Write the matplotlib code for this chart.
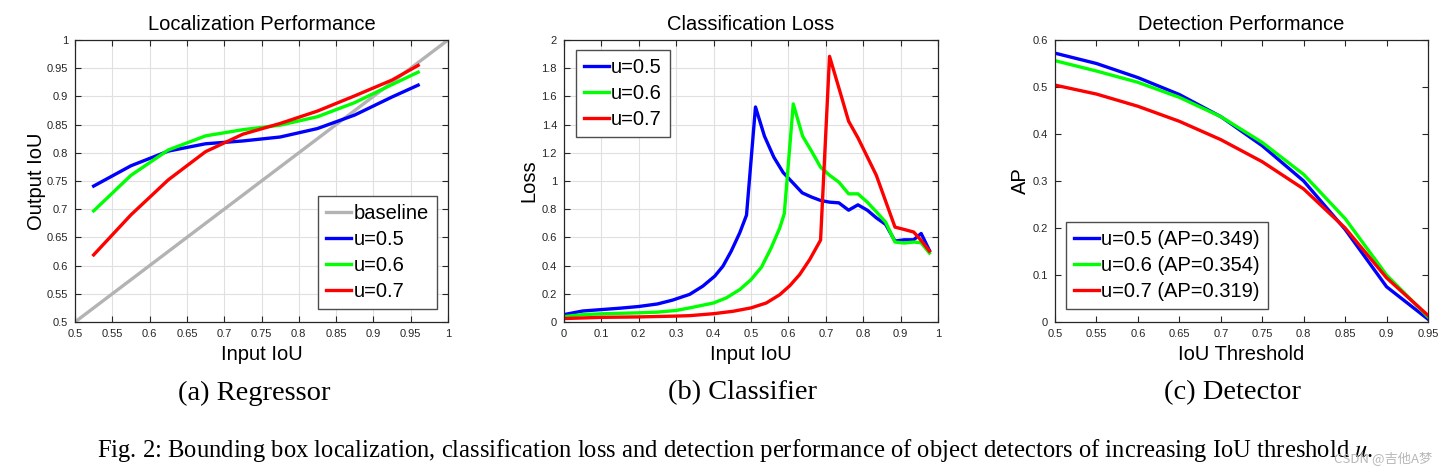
import matplotlib
matplotlib.use("Agg")
import matplotlib.pyplot as plt
from matplotlib.ticker import MultipleLocator, FuncFormatter

# ===== DATA =====
# (a) Regressor: output IoU vs input IoU
reg_x = [0.525, 0.575, 0.625, 0.675, 0.725, 0.775, 0.825, 0.875, 0.925, 0.96]
reg_u05 = [0.741, 0.777, 0.803, 0.816, 0.821, 0.828, 0.843, 0.867, 0.899, 0.920]
reg_u06 = [0.697, 0.760, 0.805, 0.830, 0.841, 0.849, 0.864, 0.889, 0.921, 0.943]
reg_u07 = [0.619, 0.690, 0.752, 0.802, 0.833, 0.852, 0.874, 0.901, 0.929, 0.955]
baseline_x = [0.5, 1.0]
baseline_y = [0.5, 1.0]

# (b) Classifier: loss vs input IoU
cls_x05 = [0.005, 0.05, 0.1, 0.15, 0.2, 0.25, 0.29, 0.336, 0.371, 0.403, 0.425,
           0.447, 0.47, 0.488, 0.512, 0.536, 0.561, 0.586, 0.612, 0.637, 0.662,
           0.686, 0.71, 0.735, 0.761, 0.786, 0.811, 0.835, 0.86, 0.885, 0.91,
           0.935, 0.955, 0.977]
cls_u05 = [0.055, 0.078, 0.088, 0.098, 0.11, 0.128, 0.155, 0.196, 0.254, 0.325,
           0.396, 0.502, 0.633, 0.758, 1.525, 1.318, 1.169, 1.06, 0.987, 0.916,
           0.886, 0.862, 0.85, 0.845, 0.793, 0.831, 0.793, 0.739, 0.692, 0.574,
           0.583, 0.583, 0.628, 0.508]
cls_x06 = [0.005, 0.05, 0.1, 0.2, 0.25, 0.3, 0.336, 0.4, 0.434, 0.47, 0.5,
           0.528, 0.554, 0.577, 0.589, 0.613, 0.638, 0.662, 0.686, 0.71, 0.735,
           0.761, 0.786, 0.811, 0.835, 0.86, 0.885, 0.91, 0.935, 0.955, 0.977]
cls_u06 = [0.04, 0.052, 0.058, 0.065, 0.07, 0.082, 0.1, 0.135, 0.171, 0.23, 0.30,
           0.389, 0.526, 0.668, 0.768, 1.547, 1.318, 1.211, 1.098, 1.041, 0.992,
           0.909, 0.909, 0.85, 0.782, 0.708, 0.567, 0.56, 0.567, 0.562, 0.489]
cls_x07 = [0.005, 0.1, 0.2, 0.3, 0.336, 0.4, 0.452, 0.5, 0.541, 0.577, 0.604,
           0.63, 0.657, 0.686, 0.71, 0.735, 0.761, 0.786, 0.811, 0.835, 0.86,
           0.885, 0.91, 0.935, 0.955, 0.977]
cls_u07 = [0.025, 0.033, 0.036, 0.042, 0.045, 0.059, 0.076, 0.10, 0.135, 0.194,
           0.258, 0.336, 0.443, 0.581, 1.884, 1.66, 1.424, 1.306, 1.171, 1.041,
           0.857, 0.673, 0.656, 0.638, 0.578, 0.503]

# (c) Detector: AP vs IoU threshold
det_x = [0.5, 0.55, 0.6, 0.65, 0.7, 0.75, 0.8, 0.85, 0.9, 0.95]
det_u05 = [0.572, 0.550, 0.520, 0.484, 0.437, 0.375, 0.300, 0.197, 0.075, 0.006]
det_u06 = [0.556, 0.534, 0.510, 0.478, 0.437, 0.382, 0.314, 0.220, 0.100, 0.011]
det_u07 = [0.504, 0.485, 0.459, 0.427, 0.388, 0.341, 0.283, 0.200, 0.094, 0.014]

labels_u = ["u=0.5", "u=0.6", "u=0.7"]
labels_det = ["u=0.5 (AP=0.349)", "u=0.6 (AP=0.354)", "u=0.7 (AP=0.319)"]

# ===== STYLE =====
plt.rcParams["font.family"] = ["Liberation Sans", "DejaVu Sans"]
plt.rcParams["mathtext.fontset"] = "stix"

W, H = 1447, 473
BLUE, GREEN, RED, GRAY = "#0000ff", "#00ff00", "#ff0000", "#b3b3b3"
LW = 2.4
fmt = FuncFormatter(lambda v, _: f"{v:g}")


def px_axes(left, top, right, bottom):
    return [left / W, 1 - bottom / H, (right - left) / W, (bottom - top) / H]


def style_axes(ax, grid):
    ax.tick_params(direction="in", top=True, right=True, length=4, width=0.8,
                   labelsize=8, colors="0.15", pad=5)
    for s in ax.spines.values():
        s.set_color("0.15")
        s.set_linewidth(0.9)
    ax.xaxis.set_major_formatter(fmt)
    ax.yaxis.set_major_formatter(fmt)
    if grid:
        ax.grid(True, color="0.88", linewidth=0.8)
        ax.set_axisbelow(True)


def legend(ax, handles, labels, loc, anchor):
    leg = ax.legend(handles, labels, loc=loc, bbox_to_anchor=anchor, fontsize=14.5,
                    frameon=True, fancybox=False, framealpha=1, edgecolor="0.3",
                    borderpad=0.4, handlelength=1.25, handletextpad=0.1,
                    labelspacing=0.34, borderaxespad=0)
    leg.get_frame().set_linewidth(1.0)
    return leg


fig = plt.figure(figsize=(W / 100, H / 100), dpi=100)

# ----- (a) Regressor -----
ax_a = fig.add_axes(px_axes(75, 40, 448, 322))
hb, = ax_a.plot(baseline_x, baseline_y, color=GRAY, lw=LW)
h1, = ax_a.plot(reg_x, reg_u05, color=BLUE, lw=LW)
h2, = ax_a.plot(reg_x, reg_u06, color=GREEN, lw=LW)
h3, = ax_a.plot(reg_x, reg_u07, color=RED, lw=LW)
ax_a.set_xlim(0.5, 1)
ax_a.set_ylim(0.5, 1)
ax_a.xaxis.set_major_locator(MultipleLocator(0.05))
ax_a.yaxis.set_major_locator(MultipleLocator(0.05))
style_axes(ax_a, True)
ax_a.set_title("Localization Performance", fontsize=14.5, pad=7)
ax_a.set_xlabel("Input IoU", fontsize=14.5)
ax_a.set_ylabel("Output IoU", fontsize=14.5)
ax_a.xaxis.set_label_coords(0.5, -0.08)
ax_a.yaxis.set_label_coords(-0.077, 0.5)
legend(ax_a, [hb, h1, h2, h3], ["baseline"] + labels_u, "lower right", (0.97, 0.046))

# ----- (b) Classifier -----
ax_b = fig.add_axes(px_axes(564, 40, 938, 322))
h1, = ax_b.plot(cls_x05, cls_u05, color=BLUE, lw=LW)
h2, = ax_b.plot(cls_x06, cls_u06, color=GREEN, lw=LW)
h3, = ax_b.plot(cls_x07, cls_u07, color=RED, lw=LW)
ax_b.set_xlim(0, 1)
ax_b.set_ylim(0, 2)
ax_b.xaxis.set_major_locator(MultipleLocator(0.1))
ax_b.yaxis.set_major_locator(MultipleLocator(0.2))
style_axes(ax_b, True)
ax_b.set_title("Classification Loss", fontsize=14.5, pad=7)
ax_b.set_xlabel("Input IoU", fontsize=14.5)
ax_b.set_ylabel("Loss", fontsize=14.5)
ax_b.xaxis.set_label_coords(0.5, -0.08)
ax_b.yaxis.set_label_coords(-0.068, 0.5)
legend(ax_b, [h1, h2, h3], labels_u, "upper left", (0.031, 0.965))

# ----- (c) Detector -----
ax_c = fig.add_axes(px_axes(1055, 40, 1428, 322))
h1, = ax_c.plot(det_x, det_u05, color=BLUE, lw=LW)
h2, = ax_c.plot(det_x, det_u06, color=GREEN, lw=LW)
h3, = ax_c.plot(det_x, det_u07, color=RED, lw=LW)
ax_c.set_xlim(0.5, 0.95)
ax_c.set_ylim(0, 0.6)
ax_c.xaxis.set_major_locator(MultipleLocator(0.05))
ax_c.yaxis.set_major_locator(MultipleLocator(0.1))
style_axes(ax_c, False)
ax_c.set_title("Detection Performance", fontsize=14.5, pad=7)
ax_c.set_xlabel("IoU Threshold", fontsize=14.5)
ax_c.set_ylabel("AP", fontsize=14.5)
ax_c.xaxis.set_label_coords(0.5, -0.08)
ax_c.yaxis.set_label_coords(-0.068, 0.5)
legend(ax_c, [h1, h2, h3], labels_det, "lower left", (0.029, 0.046))

# ----- captions -----
serif = ["Liberation Serif", "DejaVu Serif"]
for cx, txt in [(254, "(a) Regressor"), (743, "(b) Classifier"), (1233, "(c) Detector")]:
    fig.text(cx / W, 1 - 393 / H, txt, family=serif, fontsize=20.5,
             ha="center", va="center", color="black")

cap = fig.text(97 / W, 1 - 450 / H,
               "Fig. 2: Bounding box localization, classification loss and detection "
               "performance of object detectors of increasing IoU threshold $u$.",
               family=serif, fontsize=16, ha="left", va="center")
# fit caption width to the reference (~1281 px)
renderer = fig.canvas.get_renderer()
w = cap.get_window_extent(renderer).width
cap.set_fontsize(16 * 1281 / w)

fig.text(1432 / W, 1 - 458 / H, "CSDN @吉他A梦",
         family=["Noto Sans CJK SC", "DejaVu Sans"], fontsize=9.5,
         color="0.72", ha="right", va="center")

plt.savefig("out.png", dpi=100)
plt.close()
